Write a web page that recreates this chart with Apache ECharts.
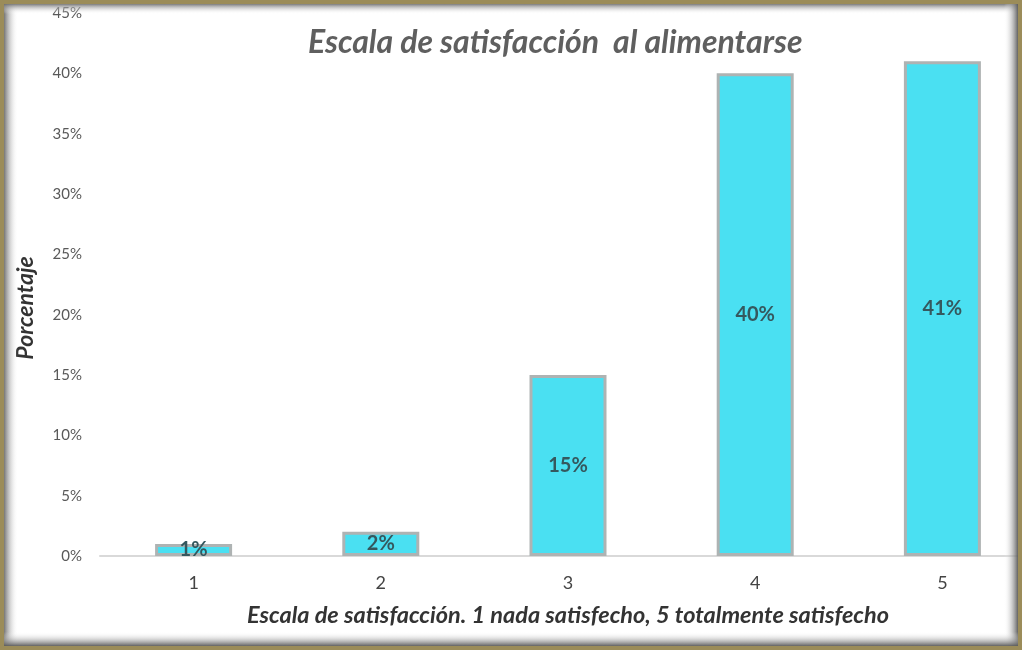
<!DOCTYPE html>
<html>
<head>
<meta charset="utf-8">
<script src="https://cdn.jsdelivr.net/npm/echarts@6/dist/echarts.min.js"></script>
<style>
  html, body { margin: 0; padding: 0; background: #ffffff; }
  #chart { width: 1022px; height: 650px; }
</style>
</head>
<body>
<div id="chart"></div>
<script>
// Satisfaction scale (1 = not satisfied, 5 = fully satisfied) and share of answers
const categories = ['1', '2', '3', '4', '5'];
const percentages = [1, 2, 15, 40, 41];
const titleText = 'Escala de satisfacción  al alimentarse';
const xAxisTitle = 'Escala de satisfacción. 1 nada satisfecho, 5 totalmente satisfecho';
const yAxisTitle = 'Porcentaje';

const W = 1022, H = 650;
const fontFamily = 'Lato, "Open Sans", sans-serif';

const chart = echarts.init(document.getElementById('chart'), null, { renderer: 'canvas' });

// Bevelled picture frame drawn over the plot edges
function strip(x, y, w, h, x2, y2, from, to) {
  return {
    type: 'rect', z: 100, silent: true,
    shape: { x: x, y: y, width: w, height: h },
    style: {
      fill: new echarts.graphic.LinearGradient(0, 0, x2, y2, [
        { offset: 0, color: from }, { offset: 1, color: to }
      ])
    }
  };
}

const frame = [
  strip(4, 4, 14, H - 8, 1, 0, 'rgba(110,110,110,0.95)', 'rgba(255,255,255,0)'),
  strip(4, 4, W - 8, 10, 0, 1, 'rgba(110,110,110,0.9)', 'rgba(255,255,255,0)'),
  strip(W - 18, 4, 14, H - 8, 1, 0, 'rgba(255,255,255,0)', 'rgba(90,90,90,0.95)'),
  strip(4, H - 18, W - 8, 14, 0, 1, 'rgba(255,255,255,0)', 'rgba(90,90,90,0.95)'),
  {
    type: 'rect', z: 101, silent: true,
    shape: { x: 0, y: 0, width: W, height: H },
    style: { fill: 'none', stroke: '#9b8c59', lineWidth: 8 }
  }
];

// Vertical axis title, set a little below the plot's middle
const yTitle = {
  type: 'text', z: 50, silent: true,
  x: 26, y: 308,
  rotation: Math.PI / 2,
  style: {
    text: yAxisTitle,
    align: 'center',
    verticalAlign: 'middle',
    fontFamily: fontFamily,
    fontSize: 23,
    fontWeight: 'bold',
    fontStyle: 'italic',
    fill: '#333333'
  }
};

chart.setOption({
  backgroundColor: '#ffffff',
  animation: false,
  title: {
    text: titleText,
    left: 303,
    top: 22,
    textStyle: {
      fontFamily: fontFamily,
      fontSize: 32,
      fontWeight: 'bold',
      fontStyle: 'italic',
      color: '#5f5f5f'
    }
  },
  // the plot runs on past the right edge of the frame
  grid: { left: 100, width: 936, top: 13, bottom: 94, outerBoundsMode: 'none', containLabel: false },
  xAxis: {
    type: 'category',
    data: categories,
    name: xAxisTitle,
    nameLocation: 'middle',
    nameGap: 48,
    nameTextStyle: {
      fontFamily: fontFamily,
      fontSize: 23.5,
      fontWeight: 'bold',
      fontStyle: 'italic',
      color: '#333333'
    },
    axisLine: { lineStyle: { color: '#d9d9d9', width: 2 } },
    axisTick: { length: 5, lineStyle: { color: '#d9d9d9' } },
    axisLabel: {
      margin: 18,
      fontFamily: fontFamily,
      fontSize: 18,
      color: '#444444'
    }
  },
  yAxis: {
    type: 'value',
    min: 0,
    max: 45,
    interval: 5,
    axisLine: { show: false },
    axisTick: { show: false },
    splitLine: { show: false },
    axisLabel: {
      margin: 18,
      formatter: '{value}%',
      fontFamily: fontFamily,
      fontSize: 15,
      color: '#595959'
    }
  },
  series: [{
    type: 'bar',
    data: percentages,
    barWidth: 77,
    itemStyle: {
      color: '#4ae0f2',
      borderColor: '#aeb3b3',
      borderWidth: 3
    },
    label: {
      show: true,
      position: 'inside',
      formatter: '{c}%',
      fontFamily: fontFamily,
      fontSize: 20,
      fontWeight: 'bold',
      color: '#35585e'
    }
  }],
  graphic: frame.concat([yTitle])
});
</script>
</body>
</html>
